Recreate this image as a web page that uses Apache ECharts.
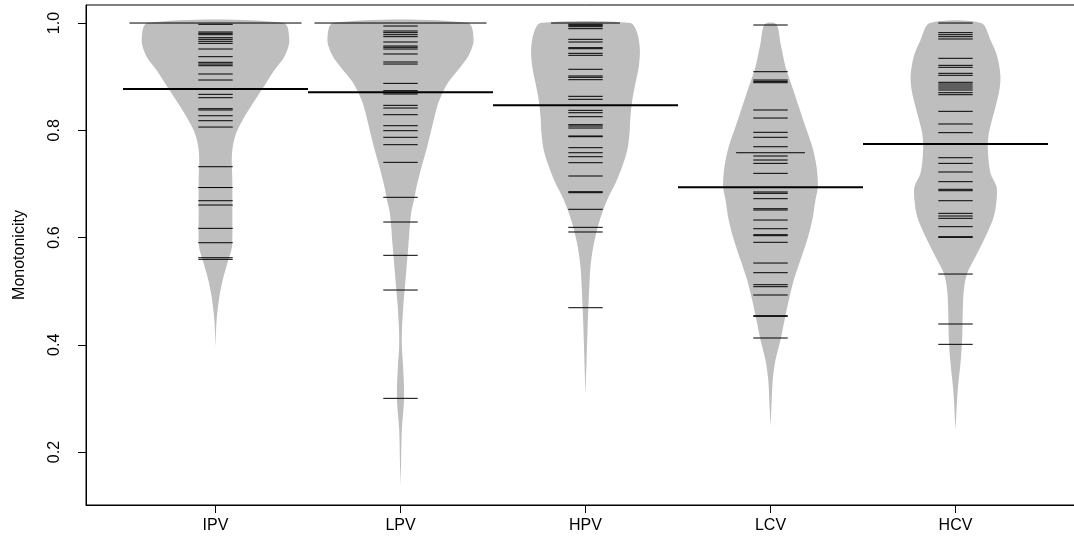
<!DOCTYPE html>
<html><head><meta charset="utf-8">
<script src="https://cdn.jsdelivr.net/npm/echarts@6/dist/echarts.min.js"></script>
<style>html,body{margin:0;padding:0;background:#fff;overflow:hidden}#c{width:1100px;height:548px}</style>
</head><body><div id="c"></div>
<script>
const categories = ['IPV', 'LPV', 'HPV', 'LCV', 'HCV'];
const yTicks = [0.2, 0.4, 0.6, 0.8, 1.0];
const beanMeans = [0.877, 0.871, 0.8465, 0.6936, 0.7744];

const ipvValues = [1.0, 1.0, 1.0, 1.0, 1.0, 0.9976, 0.9832, 0.9808, 0.9782, 0.9726, 0.9696, 0.9659, 0.9621, 0.9515, 0.9372, 0.9267, 0.9235, 0.9204, 0.9049, 0.8937, 0.8670, 0.8607, 0.8402, 0.8378, 0.8271, 0.8178, 0.8060, 0.7320, 0.6932, 0.6686, 0.6606, 0.6171, 0.5903, 0.5623, 0.5593];
const lpvValues = [1.0, 1.0, 1.0, 1.0, 1.0, 0.9944, 0.9851, 0.9820, 0.9782, 0.9745, 0.9646, 0.9571, 0.9547, 0.9515, 0.9422, 0.9273, 0.9235, 0.8875, 0.8738, 0.8700, 0.8676, 0.8465, 0.8415, 0.8290, 0.8085, 0.7992, 0.7869, 0.7731, 0.7402, 0.6750, 0.6289, 0.5668, 0.5021, 0.3001];
const hpvValues = [1.0, 1.0, 0.9976, 0.9957, 0.9931, 0.9894, 0.9696, 0.9646, 0.9540, 0.9521, 0.9435, 0.9398, 0.9137, 0.9012, 0.8987, 0.8943, 0.8633, 0.8577, 0.8372, 0.8327, 0.8253, 0.8104, 0.8079, 0.8042, 0.7893, 0.7880, 0.7675, 0.7581, 0.7507, 0.7395, 0.7147, 0.6854, 0.6836, 0.6526, 0.6190, 0.6103, 0.4691];
const lcvValues = [0.9963, 0.9092, 0.8937, 0.8912, 0.8887, 0.8378, 0.8228, 0.7962, 0.7869, 0.7693, 0.7581, 0.7581, 0.7520, 0.7445, 0.7383, 0.7197, 0.6849, 0.6824, 0.6724, 0.6537, 0.6513, 0.6326, 0.6164, 0.6052, 0.6034, 0.5911, 0.5524, 0.5344, 0.5120, 0.5083, 0.4928, 0.4542, 0.4530, 0.4126];
const hcvValues = [1.0, 0.9820, 0.9782, 0.9745, 0.9702, 0.9342, 0.9211, 0.9174, 0.9062, 0.9025, 0.8894, 0.8862, 0.8825, 0.8788, 0.8751, 0.8700, 0.8663, 0.8353, 0.8117, 0.7955, 0.7488, 0.7383, 0.7222, 0.7041, 0.6899, 0.6873, 0.6686, 0.6451, 0.6401, 0.6358, 0.6202, 0.6015, 0.6003, 0.5319, 0.4387, 0.4008];

// bean outlines: [value, half-width in category units]
const ipvShape = [[1.0,0.368],[0.968,0.399],[0.937,0.372],[0.912,0.318],[0.878,0.255],[0.850,0.201],[0.819,0.147],[0.794,0.111],[0.769,0.093],[0.745,0.088],[0.707,0.091],[0.645,0.091],[0.583,0.089],[0.558,0.069],[0.521,0.039],[0.490,0.021],[0.446,0.006],[0.396,0]];
const lpvShape = [[1.0,0.365],[0.968,0.395],[0.940,0.369],[0.918,0.324],[0.891,0.261],[0.869,0.226],[0.844,0.198],[0.807,0.171],[0.769,0.144],[0.732,0.114],[0.695,0.087],[0.670,0.073],[0.645,0.057],[0.583,0.042],[0.521,0.027],[0.471,0.015],[0.428,0.008],[0.400,0.007],[0.360,0.014],[0.320,0.019],[0.290,0.018],[0.241,0.007],[0.180,0.003],[0.135,0]];
const hpvShape = [[1.0,0.243],[0.981,0.280],[0.950,0.294],[0.9185,0.288],[0.8876,0.270],[0.8564,0.253],[0.8253,0.243],[0.7943,0.238],[0.7632,0.226],[0.7320,0.198],[0.7011,0.162],[0.6699,0.117],[0.6265,0.072],[0.5828,0.042],[0.5456,0.027],[0.4896,0.018],[0.4275,0.011],[0.3063,0]];
const lcvShape = [[0.998,0.031],[0.9621,0.054],[0.9185,0.081],[0.8812,0.117],[0.8439,0.153],[0.8066,0.189],[0.7693,0.226],[0.7320,0.249],[0.6947,0.256],[0.6699,0.243],[0.6326,0.226],[0.5953,0.198],[0.5580,0.162],[0.5207,0.126],[0.4835,0.099],[0.4462,0.076],[0.4089,0.054],[0.3716,0.027],[0.3343,0.012],[0.2845,0.005],[0.2472,0]];
const hcvShape = [[1.0,0.139],[0.9683,0.189],[0.9372,0.226],[0.8999,0.243],[0.8689,0.234],[0.8316,0.207],[0.7943,0.180],[0.7632,0.175],[0.7197,0.189],[0.6947,0.222],[0.6699,0.222],[0.6388,0.207],[0.6015,0.162],[0.5642,0.108],[0.5332,0.063],[0.5021,0.045],[0.4586,0.039],[0.4089,0.036],[0.3654,0.027],[0.3156,0.012],[0.2410,0]];

const allValues = [ipvValues, lpvValues, hpvValues, lcvValues, hcvValues];
const allShapes = [ipvShape, lpvShape, hpvShape, lcvShape, hcvShape];

const LINE_HALF = 0.093;   // half length of one bean line (category units)
const MEAN_HALF = 0.5;

// bean lines: one per distinct value, length grows with duplicates
const lineData = [];
allValues.forEach((vals, i) => {
  const counts = new Map();
  vals.forEach(v => { const k = v.toFixed(4); counts.set(k, (counts.get(k) || 0) + 1); });
  counts.forEach((c, k) => lineData.push([i + 1, parseFloat(k), c]));
});
const beanData = categories.map((c, i) => [i + 1, i]);
const meanData = beanMeans.map((m, i) => [i + 1, m]);

const FONT = "'Liberation Sans', Arial, Helvetica, sans-serif";
const chart = echarts.init(document.getElementById('c'), null, {renderer: 'canvas'});
chart.setOption({
  animation: false,
  backgroundColor: '#fff',
  grid: {left: 86, top: 5, width: 999, height: 500, show: true, borderColor: '#000', borderWidth: 1, containLabel: false},
  xAxis: {
    type: 'value', min: 0.3, max: 5.7,
    splitLine: {show: false},
    axisLine: {show: true, lineStyle: {color: '#000', width: 1}},
    axisTick: {show: true, length: 8, customValues: [1, 2, 3, 4, 5], lineStyle: {color: '#000'}},
    axisLabel: {show: true, customValues: [1, 2, 3, 4, 5], margin: 13, color: '#000', fontSize: 16, fontFamily: FONT,
      formatter: v => categories[Math.round(v) - 1] || ''}
  },
  yAxis: {
    type: 'value', min: 0.1012, max: 1.0336,
    name: 'Monotonicity', nameLocation: 'middle', nameRotate: 90, nameGap: 58,
    nameTextStyle: {color: '#000', fontSize: 16, fontFamily: FONT},
    splitLine: {show: false},
    axisLine: {show: true, lineStyle: {color: '#000', width: 1}},
    axisTick: {show: true, length: 8, customValues: yTicks, lineStyle: {color: '#000'}},
    axisLabel: {show: true, customValues: yTicks, rotate: 90, margin: 23, color: '#000', fontSize: 16, fontFamily: FONT,
      formatter: v => v.toFixed(1)}
  },
  series: [
    {
      type: 'custom', name: 'beans', z: 1, silent: true,
      data: beanData,
      renderItem: (params, api) => {
        const pos = api.value(0);
        const shape = allShapes[api.value(1)];
        const left = shape.map(([v, w]) => api.coord([pos - w, v]));
        const right = shape.slice().reverse().map(([v, w]) => api.coord([pos + w, v]));
        return {type: 'polygon', shape: {points: left.concat(right), smooth: 0.3}, style: {fill: '#bebebe', stroke: null}};
      }
    },
    {
      type: 'custom', name: 'lines', z: 2, silent: true,
      data: lineData,
      renderItem: (params, api) => {
        const pos = api.value(0), v = api.value(1), c = api.value(2);
        const p1 = api.coord([pos - LINE_HALF * c, v]);
        const p2 = api.coord([pos + LINE_HALF * c, v]);
        return {type: 'line', shape: {x1: p1[0], y1: p1[1], x2: p2[0], y2: p2[1]}, style: {stroke: '#000', lineWidth: 1}};
      }
    },
    {
      type: 'custom', name: 'means', z: 3, silent: true,
      data: meanData,
      renderItem: (params, api) => {
        const pos = api.value(0), v = api.value(1);
        const p1 = api.coord([pos - MEAN_HALF, v]);
        const p2 = api.coord([pos + MEAN_HALF, v]);
        return {type: 'line', shape: {x1: p1[0], y1: p1[1], x2: p2[0], y2: p2[1]}, style: {stroke: '#000', lineWidth: 2}};
      }
    }
  ]
});
</script></body></html>
